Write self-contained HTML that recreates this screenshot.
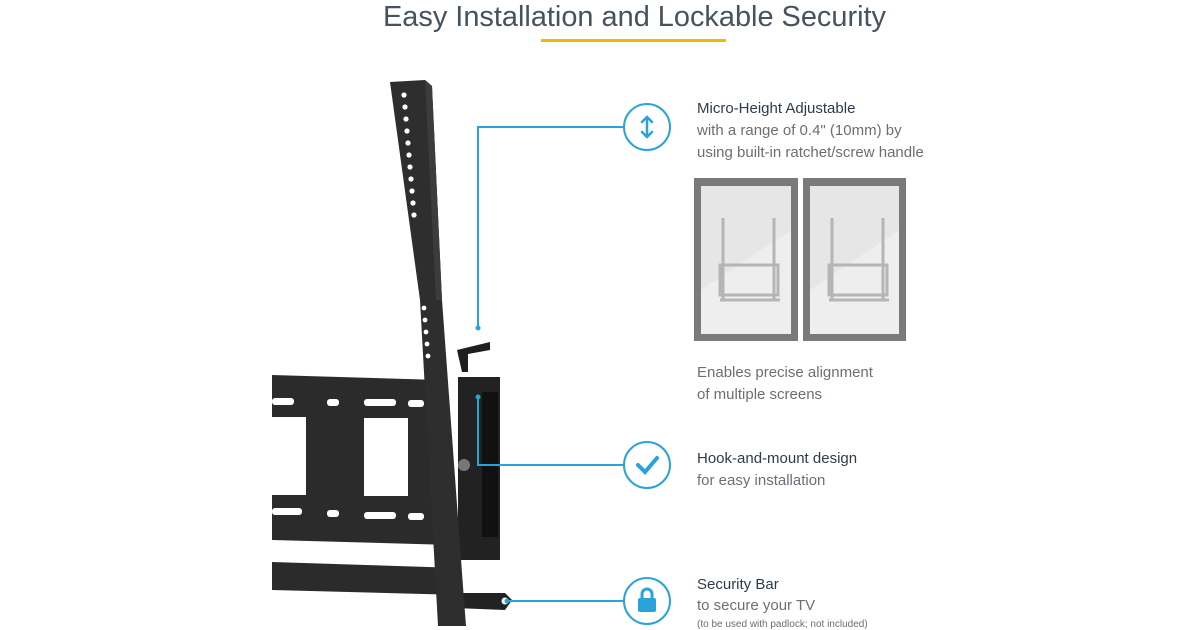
<!DOCTYPE html>
<html><head><meta charset="utf-8"><style>
html,body{margin:0;padding:0;background:#fff;width:1200px;height:630px;overflow:hidden}
svg{display:block}
text{font-family:"Liberation Sans",sans-serif}
</style></head><body>
<svg width="1200" height="630" viewBox="0 0 1200 630" xmlns="http://www.w3.org/2000/svg">
<text x="383" y="26" textLength="503" lengthAdjust="spacingAndGlyphs" font-size="29" fill="#46525f" font-weight="300">Easy Installation and Lockable Security</text>
<rect x="541" y="39" width="185" height="3" fill="#f5b800"/>

<!-- mount: plates -->
<g fill="#2b2b2b">
<polygon points="272,375 440,380 452,545 272,540"/>
<polygon points="272,562 460,568 462,595 272,590"/>
</g>
<g fill="#fff">
<rect x="272" y="398" width="22" height="7" rx="3"/>
<rect x="327" y="399" width="12" height="7" rx="3"/>
<rect x="364" y="399" width="32" height="7" rx="3"/>
<rect x="408" y="400" width="16" height="7" rx="3"/>
<rect x="272" y="417" width="34" height="78"/>
<rect x="364" y="418" width="44" height="78"/>
<rect x="272" y="508" width="30" height="7" rx="3"/>
<rect x="327" y="510" width="12" height="7" rx="3"/>
<rect x="364" y="512" width="32" height="7" rx="3"/>
<rect x="408" y="513" width="16" height="7" rx="3"/>
</g>
<!-- bracket -->
<rect x="458" y="377" width="42" height="183" fill="#222"/>
<rect x="482" y="392" width="16" height="145" fill="#111"/>
<polygon points="457,350 490,342 490,350 468,354 468,372 462,372" fill="#1e1e1e"/>
<!-- security tab -->
<polygon points="455,593 505,593 512,600 505,610 455,608" fill="#222"/>
<circle cx="505" cy="601" r="3.5" fill="#fff"/>
<!-- post -->
<polygon points="390,82 425,80 432,86 442,300 464,600 466,626 438,626 420,300" fill="#2e2e2e"/>
<polygon points="425,80 432,86 442,300 436,300" fill="#3c3c3c"/>
<g fill="#fff">
<circle cx="404" cy="95" r="2.6"/><circle cx="405" cy="107" r="2.6"/><circle cx="406" cy="119" r="2.6"/>
<circle cx="407" cy="131" r="2.6"/><circle cx="408" cy="143" r="2.6"/><circle cx="409" cy="155" r="2.6"/>
<circle cx="410" cy="167" r="2.6"/><circle cx="411" cy="179" r="2.6"/><circle cx="412" cy="191" r="2.6"/>
<circle cx="413" cy="203" r="2.6"/><circle cx="414" cy="215" r="2.6"/>
<circle cx="424" cy="308" r="2.4"/><circle cx="425" cy="320" r="2.4"/><circle cx="426" cy="332" r="2.4"/>
<circle cx="427" cy="344" r="2.4"/><circle cx="428" cy="356" r="2.4"/>
</g>
<circle cx="464" cy="465" r="6" fill="#777"/>

<!-- connectors -->
<g stroke="#2aa3d8" stroke-width="2" fill="none">
<polyline points="624,127 478,127 478,328"/>
<polyline points="624,465 478,465 478,397"/>
<line x1="624" y1="601" x2="507" y2="601"/>
<circle cx="647" cy="127" r="23"/>
<circle cx="647" cy="465" r="23"/>
<circle cx="647" cy="601" r="23"/>
</g>
<g fill="#2aa3d8">
<circle cx="478" cy="328" r="2.5"/><circle cx="478" cy="397" r="2.5"/><circle cx="507" cy="601" r="2.5"/>
</g>
<!-- icons -->
<g stroke="#2aa3d8" stroke-width="2.5" fill="none" stroke-linecap="round">
<line x1="647" y1="118" x2="647" y2="136"/>
<polyline points="642,122 647,117 652,122"/>
<polyline points="642,132 647,137 652,132"/>
<polyline points="638,465 645,472 657,458" stroke-width="4"/>
<path d="M642,599 v-5 a5,5 0 0 1 10,0 v5" stroke-width="3"/>
</g>
<rect x="638" y="598" width="18" height="14" rx="2" fill="#2aa3d8"/>

<!-- text -->
<g font-size="15">
<text x="697" y="113" fill="#2f3b48">Micro-Height Adjustable</text>
<text x="697" y="135" fill="#6a6f75">with a range of 0.4" (10mm) by</text>
<text x="697" y="157" fill="#6a6f75">using built-in ratchet/screw handle</text>
<text x="697" y="377" fill="#6a6f75">Enables precise alignment</text>
<text x="697" y="399" fill="#6a6f75">of multiple screens</text>
<text x="697" y="463" fill="#2f3b48">Hook-and-mount design</text>
<text x="697" y="485" fill="#6a6f75">for easy installation</text>
<text x="697" y="589" fill="#2f3b48">Security Bar</text>
<text x="697" y="610" fill="#6a6f75">to secure your TV</text>
</g>
<text x="697" y="627" font-size="10" fill="#6a6f75">(to be used with padlock; not included)</text>

<!-- screens -->
<g>
<rect x="694" y="178" width="104" height="163" fill="#7a7a7a"/>
<rect x="701" y="186" width="90" height="148" fill="#e6e6e6"/>
<rect x="803" y="178" width="103" height="163" fill="#7a7a7a"/>
<rect x="810" y="186" width="89" height="148" fill="#e6e6e6"/>
<polygon points="701,290 791,230 791,334 701,334" fill="#eeeeee"/>
<polygon points="810,290 899,230 899,334 810,334" fill="#eeeeee"/>
<g fill="none" stroke="#b5b5b5" stroke-width="3">
<line x1="723" y1="218" x2="723" y2="300"/><line x1="774" y1="218" x2="774" y2="300"/>
<rect x="720" y="265" width="58" height="30"/>
<line x1="720" y1="300" x2="780" y2="300"/>
<line x1="832" y1="218" x2="832" y2="300"/><line x1="883" y1="218" x2="883" y2="300"/>
<rect x="829" y="265" width="58" height="30"/>
<line x1="829" y1="300" x2="889" y2="300"/>
</g>
</g>
</svg>
</body></html>
